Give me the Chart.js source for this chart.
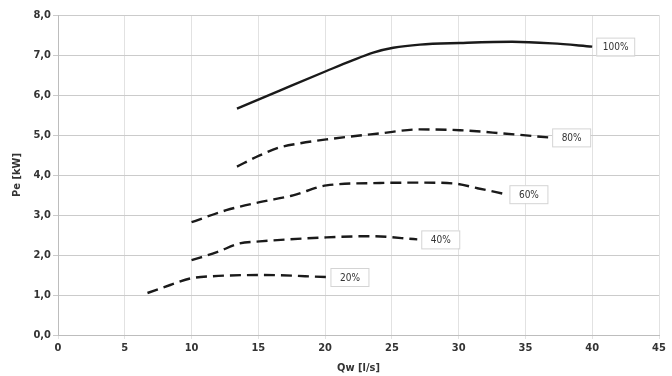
<!DOCTYPE html>
<html>
<head>
<meta charset="utf-8">
<script src="https://cdn.jsdelivr.net/npm/chart.js@4/dist/chart.umd.min.js"></script>
<style>
  html, body { margin: 0; padding: 0; background: #fff; }
  #wrap { width: 672px; height: 376px; position: relative; }
</style>
</head>
<body>
<div id="wrap"><canvas id="chart"></canvas></div>
<script>
// Curve data (Qw in l/s, Pe in kW)
const q100 = [13.4, 16.6, 20.1, 22.0, 23.6, 25.1, 27.1, 30.1, 34.0, 37.0, 40.0];
const p100 = [5.66, 6.11, 6.60, 6.86, 7.06, 7.18, 7.26, 7.30, 7.33, 7.29, 7.21];

const q80 = [13.4, 15.1, 16.6, 18.1, 20.1, 24.1, 27.1, 30.1, 33.3, 36.7];
const p80 = [4.21, 4.49, 4.69, 4.79, 4.89, 5.04, 5.14, 5.12, 5.04, 4.94];

const q60 = [10.0, 12.6, 15.1, 17.6, 20.1, 24.1, 27.1, 29.6, 31.4, 33.5];
const p60 = [2.82, 3.12, 3.32, 3.49, 3.74, 3.80, 3.81, 3.79, 3.67, 3.52];

const q40 = [10.0, 11.9, 13.6, 15.1, 20.1, 23.4, 26.9];
const p40 = [1.87, 2.07, 2.29, 2.34, 2.44, 2.47, 2.39];

const q20 = [6.7, 8.4, 10.0, 11.6, 15.3, 20.1];
const p20 = [1.05, 1.25, 1.42, 1.47, 1.50, 1.45];

const curveLabels = ['100%', '80%', '60%', '40%', '20%'];

const xTicks = [0, 5, 10, 15, 20, 25, 30, 35, 40, 45];
const yTicks = [0, 1, 2, 3, 4, 5, 6, 7, 8];

const FONT = '"Liberation Sans Narrow", "DejaVu Sans Condensed", Arial, sans-serif';

function toPoints(xs, ys) {
  return xs.map((x, i) => ({ x: x, y: ys[i] }));
}

function curve(label, xs, ys, dashed) {
  return {
    label: label,
    data: toPoints(xs, ys),
    showLine: true,
    borderColor: '#1a1a1a',
    borderWidth: 2.4,
    borderDash: dashed ? [11, 6] : [],
    pointRadius: 0,
    cubicInterpolationMode: 'monotone',
    fill: false
  };
}

// Boxed percentage labels at the end of each curve
const endLabels = {
  id: 'endLabels',
  afterDatasetsDraw(chart) {
    const ctx = chart.ctx;
    ctx.save();
    ctx.font = '10px ' + FONT;
    ctx.textBaseline = 'middle';
    ctx.textAlign = 'center';
    chart.data.datasets.forEach((ds, i) => {
      const meta = chart.getDatasetMeta(i);
      const last = meta.data[meta.data.length - 1];
      const bx = last.x + 4;
      const by = last.y - 9;
      const bw = 38, bh = 18;
      ctx.fillStyle = '#fff';
      ctx.fillRect(bx, by, bw, bh);
      ctx.strokeStyle = '#d4d4d4';
      ctx.lineWidth = 1;
      ctx.strokeRect(bx + 0.5, by + 0.5, bw, bh);
      ctx.fillStyle = '#333';
      ctx.fillText(ds.label, bx + bw / 2 + 0.5, by + bh / 2 + 1);
    });
    ctx.restore();
  }
};

const ctx = document.getElementById('chart').getContext('2d');

new Chart(ctx, {
  type: 'scatter',
  data: {
    datasets: [
      curve(curveLabels[0], q100, p100, false),
      curve(curveLabels[1], q80, p80, true),
      curve(curveLabels[2], q60, p60, true),
      curve(curveLabels[3], q40, p40, true),
      curve(curveLabels[4], q20, p20, true)
    ]
  },
  options: {
    responsive: true,
    maintainAspectRatio: false,
    animation: false,
    layout: { padding: { top: 15, right: 13, left: 0, bottom: 0 } },
    plugins: {
      legend: { display: false },
      tooltip: { enabled: false }
    },
    scales: {
      x: {
        type: 'linear',
        min: xTicks[0],
        max: xTicks[xTicks.length - 1],
        afterBuildTicks: (scale) => { scale.ticks = xTicks.map(v => ({ value: v })); },
        afterFit: (scale) => { scale.height = 41; },
        grid: { color: '#e2e2e2', tickLength: 4, lineWidth: 1 },
        border: { color: '#bdbdbd' },
        ticks: {
          color: '#333',
          font: { family: FONT, size: 11, weight: 'bold' },
          padding: 3,
          maxRotation: 0
        },
        title: {
          display: true,
          text: 'Qw [l/s]',
          color: '#333',
          font: { family: FONT, size: 11, weight: 'bold' },
          padding: { top: 0, bottom: 1 }
        }
      },
      y: {
        min: yTicks[0],
        max: yTicks[yTicks.length - 1],
        afterBuildTicks: (scale) => { scale.ticks = yTicks.map(v => ({ value: v })); },
        afterFit: (scale) => { scale.width = 58; },
        grid: { color: '#cbcbcb', tickLength: 5, lineWidth: 1 },
        border: { color: '#bdbdbd' },
        ticks: {
          color: '#333',
          font: { family: FONT, size: 11, weight: 'bold' },
          padding: 2,
          callback: (v) => v.toFixed(1).replace('.', ',')
        },
        title: {
          display: true,
          text: 'Pe [kW]',
          color: '#333',
          font: { family: FONT, size: 11, weight: 'bold' },
          padding: { top: 11, bottom: 0 }
        }
      }
    }
  },
  plugins: [endLabels]
});
</script>
</body>
</html>
